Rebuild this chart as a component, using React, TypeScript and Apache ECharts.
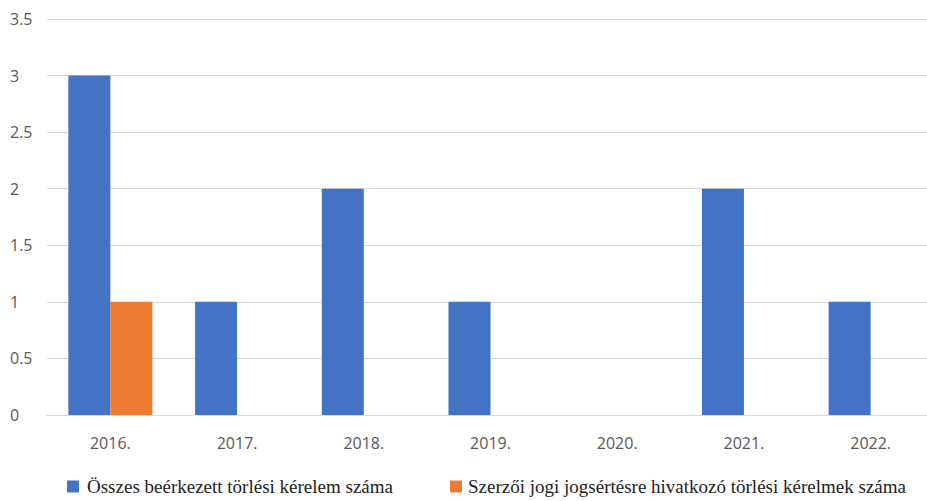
import React, { useEffect, useRef } from "react";
import * as echarts from "echarts";

const years = ["2016.", "2017.", "2018.", "2019.", "2020.", "2021.", "2022."];
const totalRequests = [3, 1, 2, 1, 0, 2, 1];
const copyrightRequests = [1, 0, 0, 0, 0, 0, 0];
const totalName = "Összes beérkezett törlési kérelem száma";
const copyrightName = "Szerzői jogi jogsértésre hivatkozó törlési kérelmek száma";

export default function App() {
  const ref = useRef<HTMLDivElement>(null);
  useEffect(() => {
    const chart = echarts.init(ref.current!, null, { renderer: "svg" });
    const legendText = {
      fontFamily: "'Liberation Serif', 'DejaVu Serif', serif",
      fontSize: 19,
      color: "#222222",
    };
    const axisFont = {
      color: "#595959",
      fontSize: 16,
      fontFamily: "'Open Sans', 'Noto Sans', sans-serif",
    };
    chart.setOption({
      animation: false,
      grid: { left: 47, top: 19, width: 887, height: 396, outerBoundsMode: "none" },
      legend: [
        {
          data: [totalName],
          left: 67,
          top: 477,
          padding: 0,
          icon: "rect",
          itemWidth: 12,
          itemHeight: 12,
          textStyle: { ...legendText, padding: [0, 0, 0, 3] },
        },
        {
          data: [copyrightName],
          left: 450,
          top: 477,
          padding: 0,
          icon: "rect",
          itemWidth: 12,
          itemHeight: 12,
          textStyle: { ...legendText, padding: [0, 0, 0, 1] },
        },
      ],
      xAxis: {
        type: "category",
        data: years,
        axisLine: { lineStyle: { color: "#d9d9d9" } },
        axisTick: { show: false },
        axisLabel: { ...axisFont, margin: 20 },
      },
      yAxis: {
        type: "value",
        min: 0,
        max: 3.5,
        interval: 0.5,
        axisLine: { show: false },
        axisTick: { show: false },
        splitLine: { lineStyle: { color: "#d9d9d9", width: 1 } },
        axisLabel: { ...axisFont, align: "left", margin: 37 },
      },
      series: [
        {
          name: totalName,
          type: "bar",
          data: totalRequests,
          itemStyle: { color: "#4472c4" },
          barGap: "0%",
          barCategoryGap: "33.7%",
        },
        {
          name: copyrightName,
          type: "bar",
          data: copyrightRequests,
          itemStyle: { color: "#ed7d31" },
        },
      ],
    });
    return () => chart.dispose();
  }, []);
  return <div ref={ref} style={{ width: 927, height: 501, position: "absolute", left: 0, top: 0 }} />;
}
